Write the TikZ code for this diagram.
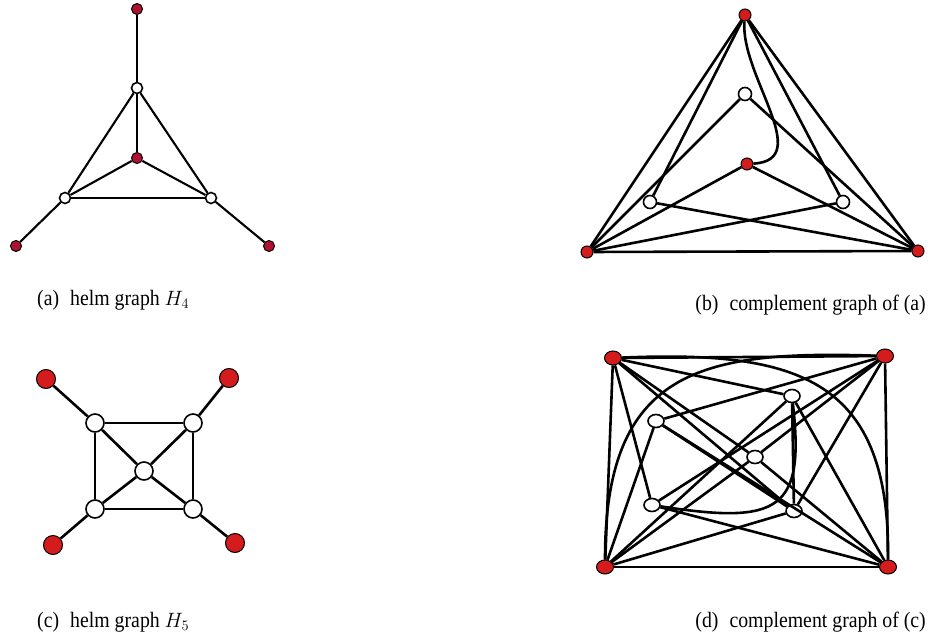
\documentclass[tikz,border=0pt]{standalone}
\usepackage{fontspec}
\setmainfont[FakeStretch=0.9]{Liberation Serif}
\usetikzlibrary{shapes.geometric}
\definecolor{hgRed}{HTML}{D41C1C}
\definecolor{hgMaroon}{HTML}{AE1230}
\tikzset{
  % Vertices: pendant (red) and wheel vertex (white).
  hg/red/.style={
    circle, draw=black, fill=hgRed, line width=1pt, inner sep=0pt, minimum size=#1
  },
  hg/red/.default=12pt,
  hg/white/.style={
    circle, draw=black, fill=white, line width=1.6pt, inner sep=0pt, minimum size=#1
  },
  hg/white/.default=12pt,
  % Oval vertices of the last panel.
  hg/ovalRed/.style={
    ellipse, draw=black, fill=hgRed, line width=1pt, inner sep=0pt,
    minimum width=17pt, minimum height=14pt
  },
  hg/ovalWhite/.style={
    ellipse, draw=black, fill=white, line width=1.6pt, inner sep=0pt,
    minimum width=16pt, minimum height=13pt
  },
  % Edges.
  hg/edge/.style={draw=black, line width=2.6pt},
  % Sub-captions.
  hg/cap/.style={anchor=base west, inner sep=0pt, font=\fontsize{22}{26}\selectfont}
}

\begin{document}
\begin{tikzpicture}[x=1pt,y=-1pt]
  \useasboundingbox (0,0) rectangle (928,639);
  % (a) helm graph H4
  \node[hg/red=11pt, fill=hgMaroon] (aP1) at (137,9) {};
  \node[hg/red=11pt, fill=hgMaroon] (aP2) at (16,246) {};
  \node[hg/red=11pt, fill=hgMaroon] (aP3) at (269,246) {};
  \node[hg/white=11pt] (aR1) at (137,88) {};
  \node[hg/white=11pt] (aR2) at (65,198) {};
  \node[hg/white=11pt] (aR3) at (211,198) {};
  \node[hg/red=11pt, fill=hgMaroon] (aH) at (137,158) {};
  \foreach \u/\v in {aP1/aR1, aP2/aR2, aP3/aR3, aR1/aR2, aR1/aR3, aR2/aR3,
                     aH/aR1, aH/aR2, aH/aR3}
    \draw[hg/edge, line width=2.1pt] (\u) -- (\v);
  \node[hg/cap] (capA) at (37,305) {(a)\hspace{11pt}helm graph $H_4$};

  % (b) complement of (a)
  \node[hg/red] (bP1) at (745,15) {};
  \node[hg/red] (bP2) at (587,252) {};
  \node[hg/red] (bP3) at (918,251) {};
  \node[hg/white=13pt] (bR1) at (745,94) {};
  \node[hg/white=13pt] (bR2) at (650,202) {};
  \node[hg/white=13pt] (bR3) at (843,202) {};
  \node[hg/red] (bH) at (747,164) {};
  \foreach \u/\v in {bP1/bP2, bP1/bP3, bP2/bP3, bP1/bR2, bP1/bR3, bR1/bP2,
                     bR1/bP3, bH/bP2, bH/bP3, bR2/bP3, bR3/bP2}
    \draw[hg/edge] (\u) -- (\v);
  \draw[hg/edge] (bP1) .. controls (740,75) and (815,160) .. (bH);
  \node[hg/cap, anchor=base east] (capB) at (926,310)
       {(b)\hspace{11pt}complement graph of (a)};

  % (c) helm graph H5
  \node[hg/red=19pt] (cP1) at (46,379) {};
  \node[hg/red=19pt] (cP2) at (229,378) {};
  \node[hg/red=19pt] (cP3) at (53,545) {};
  \node[hg/red=19pt] (cP4) at (235,543) {};
  \node[hg/white=18pt] (cR1) at (95,423) {};
  \node[hg/white=18pt] (cR2) at (193,423) {};
  \node[hg/white=18pt] (cR3) at (95,509) {};
  \node[hg/white=18pt] (cR4) at (193,509) {};
  \node[hg/white=18pt] (cH) at (144,471) {};
  \foreach \u/\v in {cP1/cR1, cP2/cR2, cP3/cR3, cP4/cR4, cR1/cR2, cR2/cR4,
                     cR4/cR3, cR3/cR1, cH/cR1, cH/cR2, cH/cR3, cH/cR4}
    \draw[hg/edge] (\u) -- (\v);
  \node[hg/cap] (capC) at (37,627) {(c)\hspace{11pt}helm graph $H_5$};

  % (d) complement of (c)
  \node[hg/ovalRed] (dTL) at (613,358) {};
  \node[hg/ovalRed] (dTR) at (885,356) {};
  \node[hg/ovalRed] (dBL) at (605,567) {};
  \node[hg/ovalRed] (dBR) at (888,567) {};
  \node[hg/ovalWhite] (dUL) at (656,421) {};
  \node[hg/ovalWhite] (dUR) at (792,396) {};
  \node[hg/ovalWhite] (dC) at (755,457) {};
  \node[hg/ovalWhite] (dLL) at (652,505) {};
  \node[hg/ovalWhite] (dLR) at (794,511) {};
  \foreach \u/\v in {dTL/dTR, dBL/dBR, dTL/dBL, dTR/dBR, dC/dTL, dC/dTR,
                     dC/dBL, dC/dBR, dTL/dUR, dTL/dLL, dTL/dLR, dTR/dUL,
                     dTR/dLL, dTR/dLR, dBL/dUL, dBL/dUR, dBL/dLR, dBR/dUL,
                     dBR/dUR, dBR/dLL, dUL/dLR, dUR/dLR}
    \draw[hg/edge] (\u) -- (\v);
  \draw[hg/edge] (dTL) .. controls (800,350) and (890,380) .. (dBR);
  \draw[hg/edge] (dBL) .. controls (605,370) and (700,350) .. (dTR);
  \draw[hg/edge] (dLL) .. controls (780,525) and (805,510) .. (dUR);
  \node[hg/cap, anchor=base east] (capD) at (926,627)
       {(d)\hspace{11pt}complement graph of (c)};
\end{tikzpicture}
\end{document}
